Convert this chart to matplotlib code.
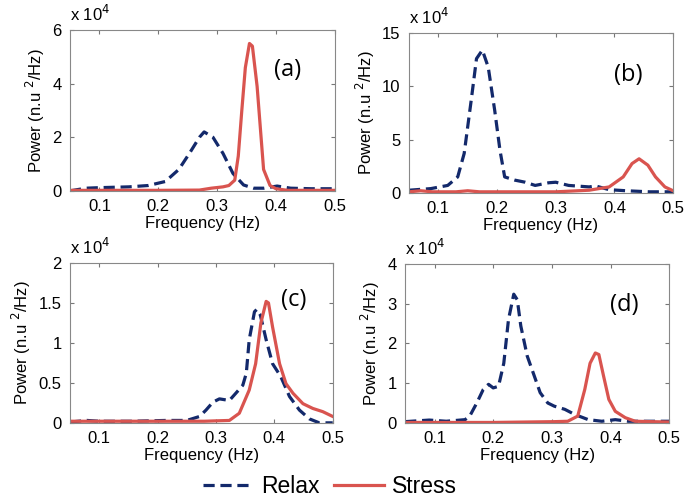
import matplotlib
matplotlib.use('Agg')
import matplotlib.pyplot as plt
import numpy as np

plt.rcParams['font.family'] = ['Liberation Sans', 'DejaVu Sans']

# panel (a)
a_relax_f = [0.05, 0.077, 0.1, 0.15, 0.183, 0.212, 0.235, 0.253, 0.27, 0.278, 0.293, 0.31, 0.327, 0.345, 0.362, 0.38, 0.402, 0.425, 0.46, 0.5]
a_relax_p = [0.0, 0.1, 0.12, 0.15, 0.2, 0.35, 0.8, 1.4, 2.0, 2.2, 2.0, 1.4, 0.65, 0.22, 0.1, 0.1, 0.18, 0.1, 0.08, 0.08]
a_stress_f = [0.05, 0.1, 0.2, 0.27, 0.29, 0.31, 0.32, 0.33, 0.336, 0.342, 0.348, 0.355, 0.36, 0.368, 0.379, 0.39, 0.4, 0.42, 0.5]
a_stress_p = [0.02, 0.02, 0.02, 0.03, 0.1, 0.15, 0.2, 0.4, 1.3, 3.0, 4.6, 5.5, 5.4, 3.9, 0.8, 0.2, 0.08, 0.02, 0.02]

# panel (b)
b_relax_f = [0.05, 0.087, 0.116, 0.133, 0.144, 0.156, 0.165, 0.175, 0.185, 0.196, 0.205, 0.213, 0.23, 0.248, 0.265, 0.288, 0.3, 0.322, 0.357, 0.368, 0.391, 0.42, 0.46, 0.5]
b_relax_p = [0.25, 0.4, 0.7, 1.5, 3.7, 8.7, 12.6, 13.4, 11.8, 7.75, 4.0, 1.5, 1.2, 1.0, 0.7, 0.95, 1.0, 0.7, 0.56, 0.65, 0.3, 0.2, 0.1, 0.1]
b_stress_f = [0.05, 0.07, 0.09, 0.13, 0.15, 0.17, 0.25, 0.3, 0.357, 0.391, 0.415, 0.43, 0.442, 0.457, 0.47, 0.486, 0.5]
b_stress_p = [0.1, 0.2, 0.1, 0.1, 0.2, 0.1, 0.1, 0.1, 0.25, 0.56, 1.5, 2.75, 3.2, 2.6, 1.5, 0.56, 0.2]

# panel (c)
c_relax_f = [0.05, 0.079, 0.1, 0.157, 0.214, 0.25, 0.272, 0.283, 0.295, 0.306, 0.323, 0.334, 0.346, 0.352, 0.357, 0.366, 0.37, 0.376, 0.386, 0.397, 0.411, 0.426, 0.443, 0.46, 0.477, 0.5]
c_relax_p = [0.01, 0.03, 0.02, 0.02, 0.03, 0.03, 0.08, 0.16, 0.26, 0.3, 0.28, 0.37, 0.47, 0.62, 1.04, 1.39, 1.42, 1.35, 1.04, 0.74, 0.58, 0.33, 0.16, 0.05, 0.0, 0.0]
c_stress_f = [0.05, 0.15, 0.28, 0.3, 0.323, 0.34, 0.357, 0.368, 0.377, 0.386, 0.39, 0.397, 0.409, 0.42, 0.432, 0.449, 0.466, 0.483, 0.5]
c_stress_p = [0.02, 0.02, 0.02, 0.025, 0.03, 0.12, 0.41, 0.74, 1.25, 1.52, 1.5, 1.2, 0.74, 0.49, 0.37, 0.24, 0.18, 0.14, 0.08]

# panel (d)
d_relax_f = [0.05, 0.091, 0.12, 0.152, 0.16, 0.172, 0.183, 0.192, 0.2, 0.209, 0.218, 0.226, 0.235, 0.241, 0.247, 0.258, 0.27, 0.28, 0.293, 0.304, 0.322, 0.339, 0.362, 0.385, 0.408, 0.43, 0.465, 0.5]
d_relax_p = [0.03, 0.07, 0.04, 0.08, 0.17, 0.5, 0.84, 0.97, 0.88, 0.92, 1.5, 2.6, 3.24, 3.1, 2.44, 1.68, 1.18, 0.76, 0.5, 0.42, 0.34, 0.21, 0.08, 0.04, 0.08, 0.04, 0.04, 0.04]
d_stress_f = [0.05, 0.2, 0.304, 0.327, 0.344, 0.356, 0.365, 0.374, 0.38, 0.388, 0.397, 0.408, 0.425, 0.442, 0.5]
d_stress_p = [0.01, 0.01, 0.03, 0.04, 0.17, 0.84, 1.5, 1.76, 1.72, 1.18, 0.59, 0.29, 0.13, 0.04, 0.02]

panels = [
    ('(a)', a_relax_f, a_relax_p, a_stress_f, a_stress_p, 6, [0, 2, 4, 6]),
    ('(b)', b_relax_f, b_relax_p, b_stress_f, b_stress_p, 15, [0, 5, 10, 15]),
    ('(c)', c_relax_f, c_relax_p, c_stress_f, c_stress_p, 2, [0, 0.5, 1, 1.5, 2]),
    ('(d)', d_relax_f, d_relax_p, d_stress_f, d_stress_p, 4, [0, 1, 2, 3, 4]),
]
ytick_labels = [['0', '2', '4', '6'], ['0', '5', '10', '15'],
                ['0', '0.5', '1', '1.5', '2'], ['0', '1', '2', '3', '4']]
xticks = [0.1, 0.2, 0.3, 0.4, 0.5]

relax_color = '#13296b'
stress_color = '#d9544f'

# axes boxes in figure fraction [left, bottom, width, height]
boxes = [
    [0.1007, 0.619, 0.381, 0.321],
    [0.5885, 0.615, 0.380, 0.319],
    [0.1007, 0.156, 0.378, 0.319],
    [0.583, 0.156, 0.380, 0.317],
]
label_pos = [(0.82, 0.75), (0.83, 0.74), (0.85, 0.77), (0.83, 0.74)]

fig = plt.figure(figsize=(6.95, 5.01), dpi=100)

for i, (name, rf, rp, sf, sp, ymax, yt) in enumerate(panels):
    ax = fig.add_axes(boxes[i])
    l1, = ax.plot(rf, rp, '--', color=relax_color, lw=2.3, dashes=(3.5, 1.8), label='Relax')
    l2, = ax.plot(sf, sp, '-', color=stress_color, lw=2.3, label='Stress')
    ax.set_xlim(0.05, 0.5)
    ax.set_ylim(0, ymax)
    ax.set_xticks(xticks)
    ax.set_xticklabels(['0.1', '0.2', '0.3', '0.4', '0.5'])
    ax.set_yticks(yt)
    ax.set_yticklabels(ytick_labels[i])
    ax.tick_params(direction='in', top=True, right=True, length=3, labelsize=12,
                   color='#777777', pad=6)
    for s in ax.spines.values():
        s.set_color('#888888')
        s.set_linewidth(0.8)
    ax.set_xlabel('Frequency (Hz)', fontsize=12, labelpad=1)
    ax.set_ylabel(r'Power (n.u $^{2}$/Hz)', fontsize=12, labelpad=4)
    ax.text(0.0, 1.04, r'x 10$^{4}$', transform=ax.transAxes, fontsize=12,
            ha='left', va='bottom')
    ax.text(label_pos[i][0], label_pos[i][1], name, transform=ax.transAxes,
            fontsize=17, family=['Open Sans', 'DejaVu Sans'], ha='center', va='center')

fig.legend([l1, l2], ['Relax', 'Stress'], loc='lower center', ncol=2, frameon=False,
           fontsize=16.5, handlelength=2.2, bbox_to_anchor=(0.475, -0.035), columnspacing=0.6,
           handletextpad=0.35)

plt.savefig('out.png', dpi=100)
plt.close()
